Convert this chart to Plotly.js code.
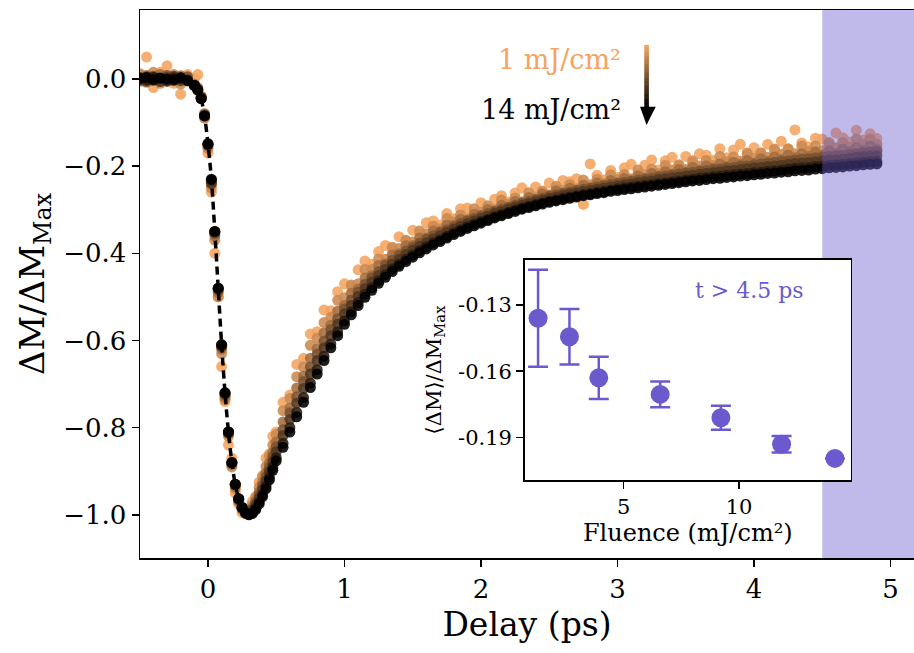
<!DOCTYPE html>
<html><head><meta charset="utf-8">
<script src="https://cdn.plot.ly/plotly-3.0.1.min.js"></script>
<style>html,body{margin:0;padding:0;background:#fff}</style>
</head><body><div id="chart" style="width:914px;height:653px"></div>
<script>
// Delay axis (ps)
const delay = [-0.5,-0.45,-0.4,-0.35,-0.3,-0.25,-0.2,-0.15,-0.1,
 -0.075,-0.05,-0.025,0,0.025,0.05,0.075,0.1,0.125,0.15,0.175,0.2,0.225,0.25,0.275,0.3,0.325,0.35,0.375,0.4,0.425,0.45,0.475,0.5,
 0.55,0.6,0.65,0.7,0.75,0.8,0.85,0.9,0.95,
 1,1.05,1.1,1.15,1.2,1.25,1.3,1.35,1.4,1.45,
 1.5,1.55,1.6,1.65,1.7,1.75,1.8,1.85,1.9,1.95,
 2,2.05,2.1,2.15,2.2,2.25,2.3,2.35,2.4,2.45,
 2.5,2.55,2.6,2.65,2.7,2.75,2.8,2.85,2.9,2.95,
 3,3.05,3.1,3.15,3.2,3.25,3.3,3.35,3.4,3.45,
 3.5,3.55,3.6,3.65,3.7,3.75,3.8,3.85,3.9,3.95,
 4,4.05,4.1,4.15,4.2,4.25,4.3,4.35,4.4,4.45,
 4.5,4.55,4.6,4.65,4.7,4.75,4.8,4.85,4.9];

const trace1 = [0.01,0.05,-0.02,0.015,0.03,-0.01,-0.035,0.01,0.0,
 0.01,-0.04,-0.09,-0.17,-0.26,-0.40,-0.50,-0.66,-0.74,-0.84,-0.87,-0.95,-0.975,-0.995,-0.99,-0.985,-0.97,-0.958,-0.925,-0.91,-0.87,-0.86,-0.82,-0.81,
 -0.742,-0.725,-0.655,-0.641,-0.585,-0.580,-0.530,-0.532,-0.488,
 -0.470,-0.478,-0.438,-0.418,-0.425,-0.396,-0.382,-0.392,-0.362,-0.372,
 -0.347,-0.356,-0.330,-0.326,-0.335,-0.309,-0.321,-0.298,-0.296,-0.307,
 -0.284,-0.297,-0.276,-0.268,-0.283,-0.262,-0.250,-0.271,-0.248,-0.262,
 -0.239,-0.255,-0.233,-0.236,-0.229,-0.288,-0.195,-0.221,-0.232,-0.210,
 -0.226,-0.204,-0.196,-0.217,-0.198,-0.186,-0.209,-0.188,-0.180,-0.199,
 -0.178,-0.193,-0.172,-0.175,-0.187,-0.160,-0.181,-0.163,-0.150,-0.174,
 -0.158,-0.170,-0.150,-0.165,-0.143,-0.160,-0.117,-0.147,-0.156,-0.136,
 -0.138,-0.150,-0.124,-0.135,-0.145,-0.118,-0.140,-0.126,-0.137];

const trace2 = [0.012,-0.008,0.015,-0.01,0.006,0.01,-0.012,0.004,-0.012,
 -0.02,-0.045,-0.09,-0.16,-0.25,-0.37,-0.50,-0.63,-0.735,-0.82,-0.89,-0.94,-0.97,-0.988,-0.996,-0.992,-0.978,-0.960,-0.937,-0.913,-0.889,-0.865,-0.840,-0.816,
 -0.761,-0.733,-0.683,-0.661,-0.611,-0.595,-0.559,-0.547,-0.508,
 -0.502,-0.473,-0.470,-0.437,-0.437,-0.413,-0.414,-0.386,-0.389,-0.370,
 -0.374,-0.349,-0.355,-0.338,-0.344,-0.320,-0.328,-0.312,-0.320,-0.298,
 -0.306,-0.291,-0.299,-0.278,-0.288,-0.273,-0.282,-0.261,-0.271,-0.257,
 -0.266,-0.246,-0.256,-0.243,-0.252,-0.232,-0.243,-0.230,-0.240,-0.220,
 -0.231,-0.219,-0.229,-0.209,-0.220,-0.207,-0.217,-0.198,-0.209,-0.197,
 -0.208,-0.188,-0.200,-0.187,-0.198,-0.178,-0.190,-0.179,-0.189,-0.170,
 -0.182,-0.170,-0.180,-0.161,-0.173,-0.161,-0.172,-0.154,-0.166,-0.154,
 -0.165,-0.146,-0.158,-0.146,-0.157,-0.138,-0.150,-0.138,-0.150];

const trace3 = [-0.005,0.008,-0.004,0.01,-0.006,0.004,0.007,-0.005,-0.014,
 -0.022,-0.04,-0.08,-0.155,-0.24,-0.36,-0.49,-0.62,-0.73,-0.815,-0.885,-0.935,-0.968,-0.986,-0.997,-0.994,-0.984,-0.968,-0.948,-0.926,-0.904,-0.881,-0.857,-0.833,
 -0.787,-0.755,-0.709,-0.682,-0.641,-0.619,-0.583,-0.565,-0.533,
 -0.520,-0.492,-0.482,-0.457,-0.451,-0.428,-0.424,-0.404,-0.401,-0.383,
 -0.382,-0.365,-0.365,-0.349,-0.350,-0.335,-0.336,-0.322,-0.324,-0.311,
 -0.313,-0.300,-0.303,-0.290,-0.294,-0.281,-0.284,-0.272,-0.276,-0.264,
 -0.268,-0.257,-0.262,-0.251,-0.255,-0.244,-0.250,-0.239,-0.244,-0.233,
 -0.238,-0.228,-0.233,-0.223,-0.228,-0.217,-0.223,-0.213,-0.218,-0.208,
 -0.214,-0.203,-0.209,-0.199,-0.205,-0.195,-0.201,-0.191,-0.196,-0.187,
 -0.193,-0.183,-0.189,-0.179,-0.185,-0.175,-0.181,-0.172,-0.178,-0.168,
 -0.175,-0.165,-0.171,-0.161,-0.167,-0.158,-0.164,-0.154,-0.161];

const trace4 = [0.004,-0.006,0.006,-0.003,0.008,-0.004,0.002,0.005,-0.014,
 -0.024,-0.042,-0.082,-0.15,-0.235,-0.355,-0.485,-0.615,-0.725,-0.81,-0.882,-0.932,-0.966,-0.985,-0.996,-0.996,-0.987,-0.973,-0.955,-0.934,-0.913,-0.891,-0.867,-0.844,
 -0.805,-0.766,-0.729,-0.694,-0.661,-0.631,-0.602,-0.575,-0.550,
 -0.527,-0.507,-0.489,-0.471,-0.456,-0.442,-0.428,-0.416,-0.405,-0.395,
 -0.386,-0.377,-0.368,-0.360,-0.353,-0.346,-0.339,-0.332,-0.326,-0.320,
 -0.315,-0.309,-0.304,-0.299,-0.295,-0.290,-0.285,-0.281,-0.277,-0.273,
 -0.269,-0.266,-0.263,-0.260,-0.256,-0.253,-0.251,-0.248,-0.245,-0.242,
 -0.240,-0.237,-0.235,-0.232,-0.230,-0.228,-0.225,-0.223,-0.221,-0.218,
 -0.216,-0.214,-0.212,-0.210,-0.208,-0.206,-0.204,-0.203,-0.200,-0.199,
 -0.197,-0.195,-0.193,-0.191,-0.189,-0.188,-0.186,-0.184,-0.183,-0.181,
 -0.179,-0.177,-0.176,-0.175,-0.173,-0.171,-0.169,-0.168,-0.166];

const trace5 = [-0.003,0.005,0.002,-0.006,0.003,0.006,-0.004,-0.002,-0.015,
 -0.025,-0.044,-0.084,-0.148,-0.24,-0.352,-0.482,-0.612,-0.722,-0.812,-0.88,-0.93,-0.964,-0.984,-0.996,-0.997,-0.990,-0.978,-0.962,-0.942,-0.922,-0.901,-0.878,-0.855,
 -0.818,-0.781,-0.744,-0.710,-0.677,-0.646,-0.617,-0.589,-0.563,
 -0.539,-0.519,-0.499,-0.481,-0.466,-0.451,-0.437,-0.425,-0.414,-0.403,
 -0.393,-0.384,-0.376,-0.367,-0.360,-0.352,-0.345,-0.338,-0.332,-0.326,
 -0.320,-0.315,-0.309,-0.304,-0.299,-0.294,-0.290,-0.286,-0.282,-0.278,
 -0.274,-0.271,-0.267,-0.264,-0.261,-0.258,-0.256,-0.253,-0.251,-0.248,
 -0.245,-0.243,-0.241,-0.238,-0.236,-0.234,-0.231,-0.229,-0.227,-0.225,
 -0.223,-0.221,-0.219,-0.217,-0.215,-0.213,-0.211,-0.210,-0.208,-0.206,
 -0.204,-0.203,-0.201,-0.200,-0.198,-0.196,-0.194,-0.193,-0.192,-0.190,
 -0.188,-0.186,-0.185,-0.184,-0.182,-0.180,-0.178,-0.177,-0.176];

const trace6 = [0.002,-0.003,0.004,0.001,-0.004,0.002,0.003,-0.003,-0.015,
 -0.025,-0.045,-0.085,-0.15,-0.232,-0.35,-0.48,-0.61,-0.72,-0.81,-0.88,-0.93,-0.963,-0.983,-0.995,-0.999,-0.995,-0.985,-0.971,-0.953,-0.934,-0.914,-0.891,-0.869,
 -0.836,-0.800,-0.765,-0.731,-0.698,-0.667,-0.636,-0.608,-0.580,
 -0.555,-0.534,-0.513,-0.494,-0.479,-0.463,-0.449,-0.436,-0.425,-0.414,
 -0.404,-0.394,-0.385,-0.376,-0.369,-0.361,-0.353,-0.346,-0.339,-0.333,
 -0.327,-0.322,-0.316,-0.311,-0.306,-0.301,-0.296,-0.292,-0.288,-0.284,
 -0.280,-0.277,-0.274,-0.271,-0.268,-0.265,-0.263,-0.260,-0.258,-0.255,
 -0.252,-0.250,-0.248,-0.246,-0.244,-0.242,-0.240,-0.238,-0.236,-0.234,
 -0.232,-0.230,-0.228,-0.226,-0.224,-0.223,-0.221,-0.220,-0.218,-0.217,
 -0.215,-0.214,-0.212,-0.211,-0.209,-0.207,-0.205,-0.204,-0.203,-0.201,
 -0.200,-0.198,-0.197,-0.196,-0.194,-0.193,-0.191,-0.190,-0.189];

const trace7 = [0.001,0.003,-0.002,0.002,0.0,-0.002,0.002,-0.004,-0.015,
 -0.025,-0.045,-0.085,-0.15,-0.23,-0.35,-0.48,-0.61,-0.72,-0.81,-0.88,-0.93,-0.963,-0.983,-0.995,-1.0,-0.997,-0.988,-0.975,-0.958,-0.94,-0.92,-0.898,-0.876,
 -0.845,-0.810,-0.775,-0.742,-0.708,-0.677,-0.646,-0.617,-0.589,
 -0.563,-0.541,-0.520,-0.501,-0.485,-0.469,-0.455,-0.442,-0.430,-0.419,
 -0.409,-0.399,-0.390,-0.381,-0.373,-0.365,-0.357,-0.350,-0.343,-0.337,
 -0.331,-0.325,-0.319,-0.314,-0.309,-0.304,-0.299,-0.295,-0.291,-0.287,
 -0.283,-0.280,-0.277,-0.274,-0.271,-0.268,-0.266,-0.263,-0.261,-0.258,
 -0.256,-0.254,-0.252,-0.250,-0.248,-0.246,-0.244,-0.242,-0.240,-0.238,
 -0.236,-0.234,-0.233,-0.231,-0.229,-0.228,-0.226,-0.225,-0.223,-0.222,
 -0.220,-0.219,-0.217,-0.216,-0.214,-0.213,-0.211,-0.210,-0.209,-0.207,
 -0.206,-0.204,-0.203,-0.202,-0.200,-0.199,-0.197,-0.196,-0.195];

const traces = [trace1, trace2, trace3, trace4, trace5, trace6, trace7];
const traceColors = ['#f4a460','#cb8950','#a36d40','#7a5230','#513720','#291b10','#000000'];

// Rise fit (dashed)
const fitDelay = [-0.05,-0.025,0,0.025,0.05,0.075,0.1,0.125,0.15,0.175,0.2,0.225,0.25,0.275,0.3];
const fitValue = [-0.045,-0.085,-0.15,-0.23,-0.35,-0.48,-0.61,-0.72,-0.81,-0.88,-0.93,-0.963,-0.983,-0.995,-1.0];

// Inset: averaged signal for t > 4.5 ps
const fluence = [1.29, 2.65, 3.92, 6.58, 9.21, 11.84, 14.15];
const meanSignal = [-0.136, -0.1444, -0.163, -0.1705, -0.1811, -0.1931, -0.1995];
const meanErr = [0.022, 0.0126, 0.0096, 0.0058, 0.0054, 0.0037, 0];
const insetTicks = [-0.13, -0.16, -0.19];
const insetTickText = ['-0.13', '-0.16', '-0.19'];
const mainYTicks = [0, -0.2, -0.4, -0.6, -0.8, -1.0];

const SERIF = 'DejaVu Serif, serif';
const SLATE = '#6a5acd';
const XR = [-0.498, 5.172], YR = [-1.099, 0.158];
const X2R = [0.71, 14.84], Y2R = [-0.2093, -0.1096];

const data = [];
traces.forEach((v, i) => {
  data.push({x: delay, y: v, type: 'scatter', mode: 'markers', xaxis: 'x', yaxis: 'y',
    marker: {color: traceColors[i], size: 11, opacity: 0.88, line: {width: 0}},
    hoverinfo: 'skip', showlegend: false});
});
data.push({x: fitDelay, y: fitValue, type: 'scatter', mode: 'lines', line: {color: '#000', width: 3.5, dash: '8px,5px', shape: 'spline'},
  hoverinfo: 'skip', showlegend: false});
// shaded window t > 4.5 ps
data.push({x: [4.5, XR[1] + 0.1, XR[1] + 0.1, 4.5, 4.5], y: [YR[0] - 0.1, YR[0] - 0.1, YR[1] + 0.1, YR[1] + 0.1, YR[0] - 0.1],
  type: 'scatter', mode: 'lines', fill: 'toself', fillcolor: 'rgba(106,90,205,0.42)', line: {width: 0},
  hoverinfo: 'skip', showlegend: false});
// inset background
data.push({x: [X2R[0] - 1, X2R[1] + 1, X2R[1] + 1, X2R[0] - 1, X2R[0] - 1], y: [Y2R[0] - 0.05, Y2R[0] - 0.05, Y2R[1] + 0.05, Y2R[1] + 0.05, Y2R[0] - 0.05],
  xaxis: 'x2', yaxis: 'y2', type: 'scatter', mode: 'lines', fill: 'toself', fillcolor: '#ffffff', line: {width: 0},
  hoverinfo: 'skip', showlegend: false});
data.push({x: fluence, y: meanSignal, xaxis: 'x2', yaxis: 'y2', type: 'scatter', mode: 'markers',
  marker: {color: SLATE, size: 19},
  error_y: {type: 'data', array: meanErr, visible: true, color: SLATE, thickness: 2.5, width: 10},
  hoverinfo: 'skip', showlegend: false});

// gradient arrow (decoration)
const shapes = [];
const barTop = 0.078, barBot = -0.0665, nSeg = 24;
for (let k = 0; k < nSeg; k++) {
  const f = k / (nSeg - 1);
  const r = Math.round(244 * (1 - f)), g = Math.round(164 * (1 - f)), b = Math.round(96 * (1 - f));
  const y0 = barTop - (barTop - barBot) * k / nSeg, y1 = barTop - (barTop - barBot) * (k + 1) / nSeg;
  shapes.push({type: 'rect', xref: 'x', yref: 'y', x0: 3.196, x1: 3.23, y0: y1 - 0.001, y1: y0,
    fillcolor: `rgb(${r},${g},${b})`, line: {width: 0}, layer: 'above'});
}
shapes.push({type: 'path', xref: 'x', yref: 'y', path: 'M 3.165 -0.064 L 3.28 -0.064 L 3.213 -0.1055 Z',
  fillcolor: '#000', line: {width: 0}, layer: 'above'});

const axisCommon = {showline: true, linecolor: '#000', linewidth: 1.5, ticks: 'outside', ticklen: 7, tickwidth: 1.5,
  tickcolor: '#000', showgrid: false, zeroline: false};

const layout = {
  width: 914, height: 653,
  margin: {l: 140, r: 0, t: 10, b: 95},
  paper_bgcolor: '#fff', plot_bgcolor: '#fff',
  font: {family: SERIF, color: '#000'},
  xaxis: Object.assign({}, axisCommon, {range: XR, domain: [0, 1], mirror: true, tickvals: [0, 1, 2, 3, 4, 5],
    tickfont: {family: SERIF, size: 26}, title: {text: 'Delay (ps)', font: {family: SERIF, size: 33}, standoff: 10}}),
  yaxis: Object.assign({}, axisCommon, {range: YR, domain: [0, 1], tickvals: mainYTicks, tickformat: '.1f',
    tickfont: {family: SERIF, size: 26},
    title: {text: 'ΔM/ΔM<sub>Max</sub>', font: {family: SERIF, size: 34}, standoff: 8}}),
  xaxis2: Object.assign({}, axisCommon, {anchor: 'y2', domain: [0.497, 0.9184], range: X2R, mirror: true,
    tickvals: [5, 10], tickfont: {family: SERIF, size: 21},
    title: {text: 'Fluence (mJ/cm²)', font: {family: SERIF, size: 24}, standoff: 6}}),
  yaxis2: Object.assign({}, axisCommon, {anchor: 'x2', domain: [0.1423, 0.5438], range: Y2R, mirror: true,
    tickvals: insetTicks, ticktext: insetTickText, tickfont: {family: SERIF, size: 21},
    title: {text: '⟨ΔM⟩/ΔM<sub>Max</sub>', font: {family: SERIF, size: 21}, standoff: 11}}),
  shapes: shapes,
  annotations: [
    {xref: 'x', yref: 'y', x: 3.04, y: 0.0436, text: '1 mJ/cm²', showarrow: false, xanchor: 'right', yanchor: 'middle',
      font: {family: SERIF, size: 27, color: '#f4a460'}},
    {xref: 'x', yref: 'y', x: 3.04, y: -0.071, text: '14 mJ/cm²', showarrow: false, xanchor: 'right', yanchor: 'middle',
      font: {family: SERIF, size: 27, color: '#000'}},
    {xref: 'x2', yref: 'y2', x: 10.46, y: -0.1232, text: 't > 4.5 ps', showarrow: false, xanchor: 'center', yanchor: 'middle',
      font: {family: SERIF, size: 22, color: SLATE}}
  ]
};

Plotly.newPlot('chart', data, layout, {staticPlot: true, displayModeBar: false});
</script></body></html>
